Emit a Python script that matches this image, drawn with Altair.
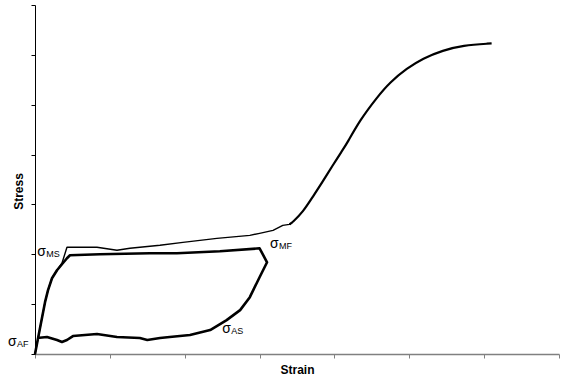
import altair as alt
import pandas as pd

# Loading curve (thin plateau then rising S-shaped part), strain / stress units
load_strain = [0.0, 0.067, 0.134, 0.174, 0.227, 0.294, 0.36, 0.427, 0.467, 0.828, 1.095, 1.268,
               1.669, 1.976, 2.43, 2.87, 3.00, 3.18, 3.31, 3.40, 3.44]
load_stress = [0.0, 0.52, 1.04, 1.28, 1.52, 1.68, 1.82, 2.14, 2.14, 2.14, 2.08, 2.12,
               2.18, 2.24, 2.32, 2.38, 2.42, 2.48, 2.58, 2.60, 2.64]

rise_strain = [3.40, 3.44, 3.58, 3.71, 3.84, 3.98, 4.10, 4.17, 4.34, 4.57, 4.74, 4.97, 5.18,
               5.45, 5.71, 6.10]
rise_stress = [2.60, 2.64, 2.85, 3.15, 3.45, 3.79, 4.07, 4.23, 4.69, 5.15, 5.45, 5.73, 5.93,
               6.09, 6.19, 6.23]

# Partial loop (loading to plateau, unloading)
loop_strain = [0.0, 0.067, 0.134, 0.174, 0.227, 0.294, 0.36, 0.427, 0.467, 0.868, 1.535, 1.896,
               2.47, 3.00, 3.10, 3.00, 2.87, 2.74, 2.56, 2.34, 2.07, 1.80, 1.67, 1.50, 1.40,
               1.095, 0.828, 0.507, 0.427, 0.36, 0.294, 0.16, 0.027]
loop_stress = [0.0, 0.52, 1.04, 1.28, 1.52, 1.68, 1.80, 1.92, 1.98, 2.00, 2.02, 2.02,
               2.06, 2.12, 1.84, 1.54, 1.14, 0.88, 0.68, 0.48, 0.38, 0.34, 0.32, 0.28, 0.32,
               0.34, 0.40, 0.36, 0.28, 0.24, 0.28, 0.34, 0.32]

# Annotations: sigma symbol + subscript
lab_sub = ["MS", "AF", "MF", "AS"]
lab_strain = [0.03, -0.36, 3.14, 2.50]
lab_stress = [1.96, 0.16, 2.13, 0.42]

x_ticks = [0, 1, 2, 3, 4, 5, 6, 7]
y_ticks = [0, 1, 2, 3, 4, 5, 6, 7]

load_df = pd.DataFrame({"strain": load_strain, "stress": load_stress,
                        "i": range(len(load_strain))})
rise_df = pd.DataFrame({"strain": rise_strain, "stress": rise_stress,
                        "i": range(len(rise_strain))})
loop_df = pd.DataFrame({"strain": loop_strain, "stress": loop_stress,
                        "i": range(len(loop_strain))})
lab_df = pd.DataFrame({"sub": lab_sub, "strain": lab_strain, "stress": lab_stress,
                       "sig": ["σ"] * len(lab_sub)})

xs = alt.Scale(domain=[0, 7], nice=False, zero=False)
ys = alt.Scale(domain=[0, 7], nice=False, zero=False)

x_axis = alt.Axis(values=x_ticks, labels=False, grid=False, title="Strain",
                  tickSize=4, tickColor="#808080", domainColor="#808080", domainWidth=1.5,
                  titleFont="Liberation Sans", titleFontSize=12, titleFontWeight="bold",
                  titleColor="black", titlePadding=6)
y_axis = alt.Axis(values=y_ticks, labels=False, grid=False, title="Stress",
                  tickSize=4, tickColor="black", domainColor="black", domainWidth=1,
                  titleFont="Liberation Sans", titleFontSize=12, titleFontWeight="bold",
                  titleColor="black", titlePadding=5, titleY=186)

base_x = alt.X("strain:Q", scale=xs, axis=x_axis)
base_y = alt.Y("stress:Q", scale=ys, axis=y_axis)

loop = alt.Chart(loop_df).mark_line(color="black", strokeWidth=2.6, strokeJoin="round").encode(
    x=base_x, y=base_y, order="i:Q")
load = alt.Chart(load_df).mark_line(color="black", strokeWidth=1.4, strokeJoin="round").encode(
    x="strain:Q", y="stress:Q", order="i:Q")
rise = alt.Chart(rise_df).mark_line(color="black", strokeWidth=2.2, interpolate="basis").encode(
    x="strain:Q", y="stress:Q", order="i:Q")

sig = alt.Chart(lab_df).mark_text(align="left", baseline="alphabetic", font="Liberation Sans",
                                  fontSize=14, color="black").encode(
    x="strain:Q", y="stress:Q", text="sig:N")
sub = alt.Chart(lab_df).mark_text(align="left", baseline="alphabetic", font="Liberation Sans",
                                  fontSize=9, dx=9, dy=1, color="black").encode(
    x="strain:Q", y="stress:Q", text="sub:N")

chart = alt.layer(loop, load, rise, sig, sub).properties(
    width=524, height=349,
    autosize=alt.AutoSizeParams(type="none"),
    padding={"left": 35, "top": 5, "right": 12, "bottom": 31},
    background="white",
).configure_view(stroke=None)

chart.save("out.html", embed_options={"renderer": "svg", "actions": False})
